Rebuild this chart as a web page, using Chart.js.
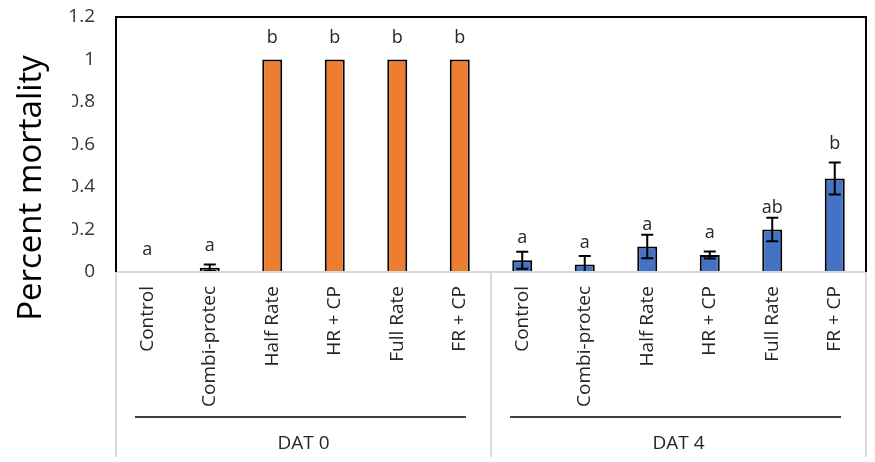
<!DOCTYPE html>
<html>
<head>
<meta charset="utf-8">
<title>Percent mortality</title>
<script src="https://cdn.jsdelivr.net/npm/chart.js@4.4.1/dist/chart.umd.min.js"></script>
<style>
  html, body { margin: 0; padding: 0; background: #fff; }
  #wrap { position: relative; width: 875px; height: 462px; }
</style>
</head>
<body>
<div id="wrap"><canvas id="mortChart"></canvas></div>
<script>
"use strict";

// treatments, repeated for each sampling day
const treatments = ["Control", "Combi-protec", "Half Rate", "HR + CP", "Full Rate", "FR + CP"];
const groups = ["DAT 0", "DAT 4"];

// mean mortality and error per treatment
const dat0Mean = [0, 0.02, 1, 1, 1, 1];
const dat0Err = [0, 0.015, 0, 0, 0, 0];
const dat4Mean = [0.055, 0.035, 0.12, 0.08, 0.2, 0.44];
const dat4Err = [0.04, 0.04, 0.055, 0.017, 0.055, 0.075];

// mean separation letters
const dat0Letters = ["a", "a", "b", "b", "b", "b"];
const dat4Letters = ["a", "a", "a", "a", "ab", "b"];

const yTicks = [0, 0.2, 0.4, 0.6, 0.8, 1, 1.2];

const ORANGE = "#ED7D31";
const BLUE = "#4472C4";
const FONT = "'Open Sans', sans-serif";

const labels = groups.flatMap((g) => treatments.map((t) => g + "|" + t));
const means = dat0Mean.concat(dat4Mean);
const errs = dat0Err.concat(dat4Err);
const letters = dat0Letters.concat(dat4Letters);
const colors = treatments.map(() => ORANGE).concat(treatments.map(() => BLUE));

Chart.defaults.font.family = FONT;

// error bars + letters above each bar
const errorBarPlugin = {
  id: "errorBars",
  afterDatasetsDraw(chart) {
    const ctx = chart.ctx;
    const y = chart.scales.y;
    const meta = chart.getDatasetMeta(0);
    ctx.save();
    ctx.strokeStyle = "#000";
    ctx.lineWidth = 2;
    meta.data.forEach((bar, i) => {
      const x = bar.x;
      const top = y.getPixelForValue(means[i]);
      const eTop = y.getPixelForValue(means[i] + errs[i]);
      const eBot = y.getPixelForValue(Math.max(0, means[i] - errs[i]));
      if (errs[i] > 0) {
        ctx.beginPath();
        ctx.moveTo(x, eTop); ctx.lineTo(x, eBot);
        ctx.moveTo(x - 6, eTop); ctx.lineTo(x + 6, eTop);
        ctx.moveTo(x - 6, eBot); ctx.lineTo(x + 6, eBot);
        ctx.stroke();
      }
      // letter sits above the bar, lifted over the cap when it would collide
      let base = top - 17;
      if (errs[i] > 0 && base > eTop - 4) base = eTop - 14;
      ctx.fillStyle = "#262626";
      ctx.font = "18px " + FONT;
      ctx.textAlign = "center";
      ctx.textBaseline = "alphabetic";
      ctx.fillText(letters[i], x, base);
    });
    ctx.restore();
  },
};

// frame, two-level category axis and y title
const axisPlugin = {
  id: "multiAxis",
  afterDraw(chart) {
    const ctx = chart.ctx;
    const { left, right, top, bottom } = chart.chartArea;
    const x = chart.scales.x;
    const n = treatments.length;
    const tailY = bottom + 185;
    const split = (x.getPixelForValue(n - 1) + x.getPixelForValue(n)) / 2;

    ctx.save();
    // light gray category separators
    ctx.strokeStyle = "#d9d9d9";
    ctx.lineWidth = 2;
    ctx.beginPath();
    ctx.moveTo(left, bottom); ctx.lineTo(right, bottom);
    [left, split, right].forEach((px) => {
      ctx.moveTo(px, bottom); ctx.lineTo(px, tailY);
    });
    ctx.stroke();

    // black plot frame (left, top, right)
    ctx.strokeStyle = "#000";
    ctx.lineWidth = 2;
    ctx.beginPath();
    ctx.moveTo(left, bottom); ctx.lineTo(left, top);
    ctx.lineTo(right, top); ctx.lineTo(right, bottom);
    ctx.stroke();

    // treatment names, rotated
    ctx.fillStyle = "#262626";
    ctx.font = "19px " + FONT;
    ctx.textAlign = "right";
    ctx.textBaseline = "middle";
    labels.forEach((lab, i) => {
      const px = x.getPixelForValue(i);
      ctx.save();
      ctx.translate(px, bottom + 14);
      ctx.rotate(-Math.PI / 2);
      ctx.fillText(lab.split("|")[1], 0, 0);
      ctx.restore();
    });

    // group underline + name
    const edges = [[left, split], [split, right]];
    ctx.font = "19px " + FONT;
    ctx.textAlign = "center";
    groups.forEach((g, gi) => {
      const [a, b] = edges[gi];
      ctx.lineWidth = 1.5;
      ctx.beginPath();
      ctx.moveTo(a + 19, bottom + 145); ctx.lineTo(b - 25, bottom + 145);
      ctx.stroke();
      ctx.fillText(g, (a + b) / 2, bottom + 172);
    });

    // y title sits on a white box
    ctx.fillStyle = "#fff";
    ctx.fillRect(0, 45, 72, 275);
    ctx.fillStyle = "#000";
    ctx.font = "33px " + FONT;
    ctx.translate(32, 188);
    ctx.rotate(-Math.PI / 2);
    ctx.textAlign = "center";
    ctx.fillText("Percent mortality", 0, 0);
    ctx.restore();
  },
};

new Chart(document.getElementById("mortChart"), {
  type: "bar",
  data: {
    labels: labels,
    datasets: [
      {
        data: means,
        backgroundColor: colors,
        borderColor: "#000",
        borderWidth: 2,
        barPercentage: 0.32,
        categoryPercentage: 1,
      },
    ],
  },
  options: {
    responsive: true,
    maintainAspectRatio: false,
    animation: false,
    layout: { padding: { top: 17, right: 9, bottom: 190, left: 0 } },
    plugins: {
      legend: { display: false },
      tooltip: { enabled: false },
    },
    scales: {
      x: { display: false },
      y: {
        min: 0,
        max: 1.2,
        afterFit(scale) {
          scale.width = 116;
          // tick labels may overhang the plot edges
          scale.paddingTop = 0;
          scale.paddingBottom = 0;
        },
        afterBuildTicks(scale) { scale.ticks = yTicks.map((v) => ({ value: v })); },
        grid: { display: false },
        border: { display: false },
        ticks: {
          color: "#333",
          padding: 13,
          font: { size: 19 },
          callback: (v) => String(+v.toFixed(1)),
        },
      },
    },
  },
  plugins: [errorBarPlugin, axisPlugin],
});
</script>
</body>
</html>
